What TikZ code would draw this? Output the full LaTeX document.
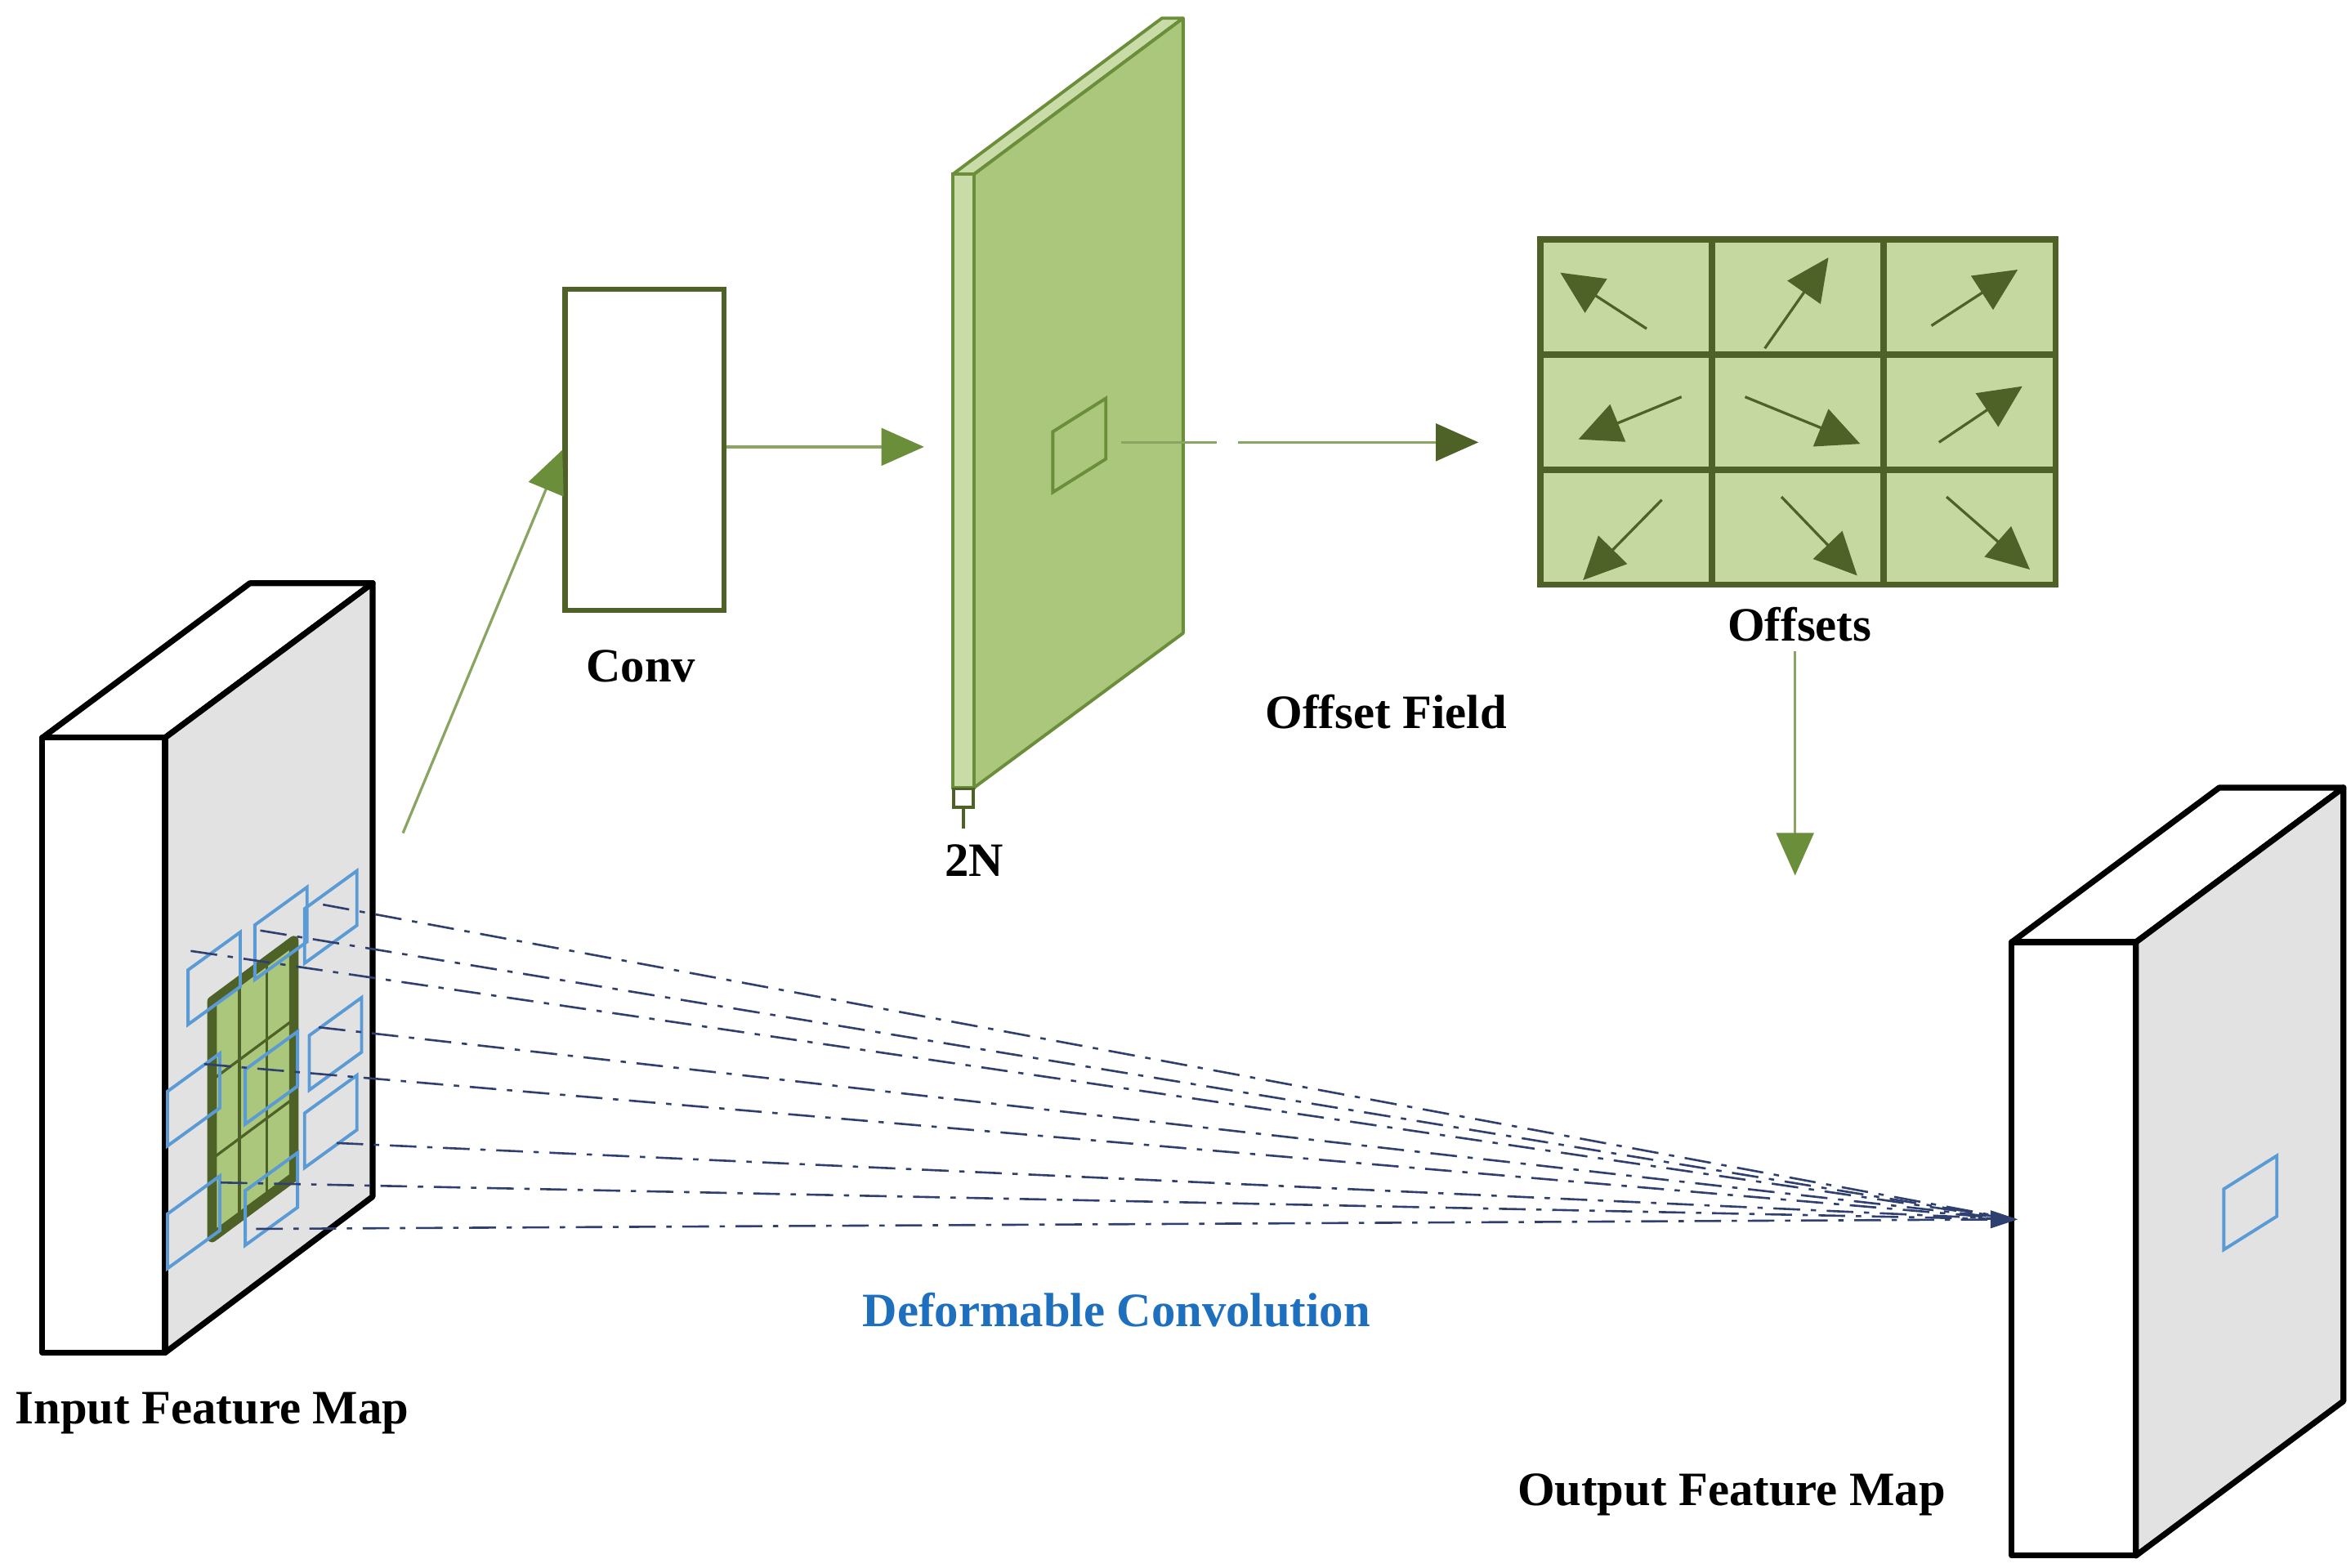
\documentclass[tikz,border=0pt]{standalone}
\usepackage{fontspec}
\setmainfont{Liberation Serif}
\usetikzlibrary{arrows.meta}
\definecolor{gdark}{HTML}{4E6228}
\definecolor{gmid}{HTML}{6B8E3A}
\definecolor{gfill}{HTML}{AAC77B}
\definecolor{glight}{HTML}{C9DCA8}
\definecolor{gcell}{HTML}{C5D89F}
\definecolor{sgray}{HTML}{E2E2E2}
\definecolor{bl}{HTML}{5B9BD5}
\definecolor{navy}{HTML}{2F3F6F}
\definecolor{tblue}{HTML}{1F6FBF}
\tikzset{
 lbl/.style={font=\fontsize{9}{11}\selectfont\bfseries},
 face/.style={draw=black,line width=1.1pt,line join=round},
 brect/.style={draw=bl,line width=0.6pt},
 ddot/.style={draw=navy,line width=0.4pt,dash pattern=on 5pt off 2pt on 1pt off 2pt},
 garrow/.style={draw=gmid!80,line width=0.5pt,-{Triangle[length=8pt,width=7pt,fill=gmid,color=gmid]}},
 cellarrow/.style={draw=gdark,line width=0.5pt,-{Triangle[length=8pt,width=7.5pt,color=gdark]}},
}
\begin{document}
\begin{tikzpicture}[x=0.01cm,y=-0.01cm]
\useasboundingbox (0,0) rectangle (1552,1035);
% input feature map
\draw[face,fill=white] (28,487) -- (109,487) -- (246,385) -- (165,385) -- cycle;
\draw[face,fill=sgray] (109,487) -- (246,385) -- (246,790) -- (109,893) -- cycle;
\draw[face,fill=white] (28,487) rectangle (109,893);
% green kernel grid
\draw[draw=gdark,line width=1.8pt,fill=gfill,line join=round] (140,661) -- (194,621) -- (194,777) -- (140,817) -- cycle;
\foreach \i in {1,2}{
 \draw[gdark,line width=0.5pt] ({140+\i*18},{661-\i*13.3}) -- ({140+\i*18},{817-\i*13.3});
 \draw[gdark,line width=0.5pt] (140,{661+\i*52}) -- (194,{621+\i*52});
}
% blue sampling rects
\foreach \x/\y in {124.1/640.4,168.2/610.7,201.1/599.9,204.2/683.6,161.9/706.1,110.6/720.5,201.1/734.9,110.6/801.4,161.9/786.1}{
 \draw[brect] (\x,\y) -- (\x+34.5,\y-25) -- (\x+34.5,\y+11) -- (\x,\y+36) -- cycle;
}
% output feature map
\draw[face,fill=white] (1328,622) -- (1465,520) -- (1547,520) -- (1410,622) -- cycle;
\draw[face,fill=sgray] (1410,622) -- (1547,520) -- (1547,925) -- (1410,1027) -- cycle;
\draw[face,fill=white] (1328,622) rectangle (1410,1027);
\draw[brect] (1468,785) -- (1503,763) -- (1503,803) -- (1468,825) -- cycle;
\coordinate (tgt) at (1330,805);
% dash-dot lines
\foreach \x/\y [count=\k] in {213.2/597.2,171.8/614.3,125.9/627.8,210.5/678.2,134.9/702.5,222.2/754.6,145.7/780.7,169.1/811.3}{
 \coordinate (s\k) at (\x,\y);
 \draw[ddot] (s\k) -- (tgt);
}
\fill[navy] (1332,805) -- (1314,799) -- (1314,811) -- cycle;
% conv box
\node[draw=gdark,line width=1pt,minimum width=105*0.01cm,minimum height=212*0.01cm,inner sep=0pt] (conv) at (425.5,297) {};
\node[lbl] (convl) at (423,440) {Conv};
\coordinate (inp) at (266,550);
\draw[garrow] (inp) -- (conv.west);
% green slab
\draw[draw=gmid,line width=0.6pt,fill=glight,line join=round] (629,115) -- (767,12) -- (781,12) -- (643,115) -- cycle;
\draw[draw=gmid,line width=0.6pt,fill=glight] (629,115) rectangle (643,520);
\draw[draw=gmid,line width=0.6pt,fill=gfill,line join=round] (643,115) -- (781,12) -- (781,418) -- (643,520) -- cycle;
\draw[gmid,line width=0.6pt] (695,285) -- (730,263) -- (730,303) -- (695,325) -- cycle;
\node[draw=gdark,fill=white,line width=0.5pt,minimum width=13*0.01cm,minimum height=12*0.01cm,inner sep=0pt] (nb) at (636,527) {};
\coordinate (nbe) at (636,547);
\draw[gdark,line width=0.6pt] (nb.south) -- (nbe);
\node[lbl] (twoN) at (643,568) {2N};
\coordinate (slabL) at (610,295);
\draw[garrow] (conv.east |- slabL) -- (slabL);
% offset field arrow
\coordinate (of1) at (740,292);
\coordinate (of2) at (976,292);
\draw[draw=gmid!80,line width=0.5pt,dash pattern=on 18pt off 4pt on 40pt off 3pt,-{Triangle[length=8pt,width=7pt,color=gdark]}] (of1) -- (of2);
\node[lbl] (ofl) at (915,470) {Offset Field};
% offsets grid
\node[draw=gdark,fill=gcell,line width=1.2pt,minimum width=340*0.01cm,minimum height=228*0.01cm,inner sep=0pt] (grid) at (1187,272) {};
\foreach \i in {1,2}{
 \draw[gdark,line width=1.2pt] ({1017+\i*113.3},158) -- ({1017+\i*113.3},386);
 \draw[gdark,line width=1.2pt] (1017,{158+\i*76}) -- (1357,{158+\i*76});
}
\foreach \a/\b/\c/\d in {1087/217/1030/180, 1165/230/1207/170, 1275/215/1332/178,
 1110/262/1042/290, 1152/262/1228/293, 1280/292/1335/255,
 1097/330/1045/383, 1176/328/1226/380, 1285/328/1340/376}{
 \draw[cellarrow] (\a,\b) -- (\c,\d);
}
\node[lbl] (offl) at (1188,412) {Offsets};
\coordinate (up) at (1185,430);
\coordinate (dn) at (1185,578);
\draw[garrow] (up) -- (dn);
% labels
\node[lbl,text=tblue] (dcl) at (737,865) {Deformable Convolution};
\node[lbl] (ifm) at (140,933) {Input Feature Map};
\node[lbl] (ofm) at (1143,987) {Output Feature Map};
\end{tikzpicture}
\end{document}
